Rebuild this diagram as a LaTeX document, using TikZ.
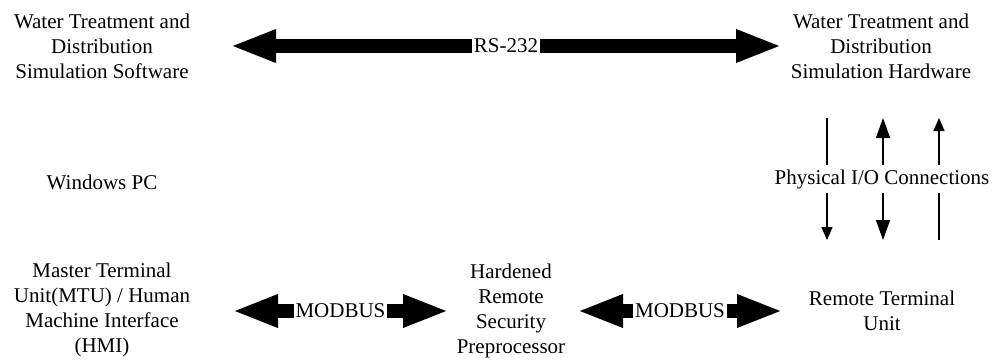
\documentclass[tikz,border=0pt]{standalone}
\usepackage{fontspec}
\setmainfont{Liberation Serif}
\usetikzlibrary{
  arrows.meta,
  calc,
  positioning,
}
\tikzset{
  >=Triangle[],
  fat/.style={line width=14pt,{Triangle[length=46pt,width=30pt]}-{Triangle[length=46pt,width=30pt]}},
  txt/.style={align=center,inner sep=0pt,font=\fontsize{21}{25}\selectfont},
  lbl/.style={fill=white,inner xsep=2pt,inner ysep=4pt,font=\fontsize{21}{25}\selectfont},
  iowire/.style={line width=1.3pt},
  smalltip/.style={Triangle[length=13pt,width=11pt]},
  bigtip/.style={Triangle[length=20pt,width=14pt]},
}

\begin{document}
\begin{tikzpicture}[x=1pt,y=-1pt]
      \useasboundingbox (0,0) rectangle (995,359);

      \node[txt]    (sw)    at (102,46)     {Water Treatment and\\Distribution\\Simulation Software};
      \node[txt]    (hw)    at (881,46)     {Water Treatment and\\Distribution\\Simulation Hardware};
      \node[txt]    (pc)    at (102,182)    {Windows PC};
      \node[txt]    (mtu)   at (102,310)    {Master Terminal\\Unit(MTU) / Human\\Machine Interface\\(HMI)};
      \node[txt]    (hrsp)  at (511,311)    {Hardened\\Remote\\Security\\Preprocessor};
      \node[txt]    (rtu)   at (882,311)    {Remote Terminal\\Unit};

      \coordinate (rsL) at (230,46);
      \coordinate (rsR) at (782,46);
      \coordinate (mb1L) at (232,311);
      \coordinate (mb1R) at (449,311);
      \coordinate (mb2L) at (577,311);
      \coordinate (mb2R) at (783,311);

      \draw[fat] (rsL) -- node[lbl,inner ysep=0pt] {RS-232} (rsR);
      \draw[fat] (mb1L) -- node[lbl,inner ysep=0pt] {MODBUS} (mb1R);
      \draw[fat] (mb2L) -- node[lbl,inner ysep=0pt] {MODBUS} (mb2R);

      \coordinate (io1t) at (827,118);
      \coordinate (io1b) at (827,240);
      \coordinate (io2t) at (883,118);
      \coordinate (io2b) at (883,240);
      \coordinate (io3t) at (939,118);
      \coordinate (io3b) at (939,240);

      \draw[iowire,-{Triangle[length=13pt,width=11pt]}] (io1t) -- (io1b);
      \draw[iowire,{Triangle[length=20pt,width=14pt]}-{Triangle[length=20pt,width=14pt]}] (io2t) -- (io2b);
      \draw[iowire,-{Triangle[length=13pt,width=11pt]}] (io3b) -- (io3t);

      \node[lbl]    (io)    at (882,179)    {Physical I/O Connections};

\end{tikzpicture}
\end{document}
